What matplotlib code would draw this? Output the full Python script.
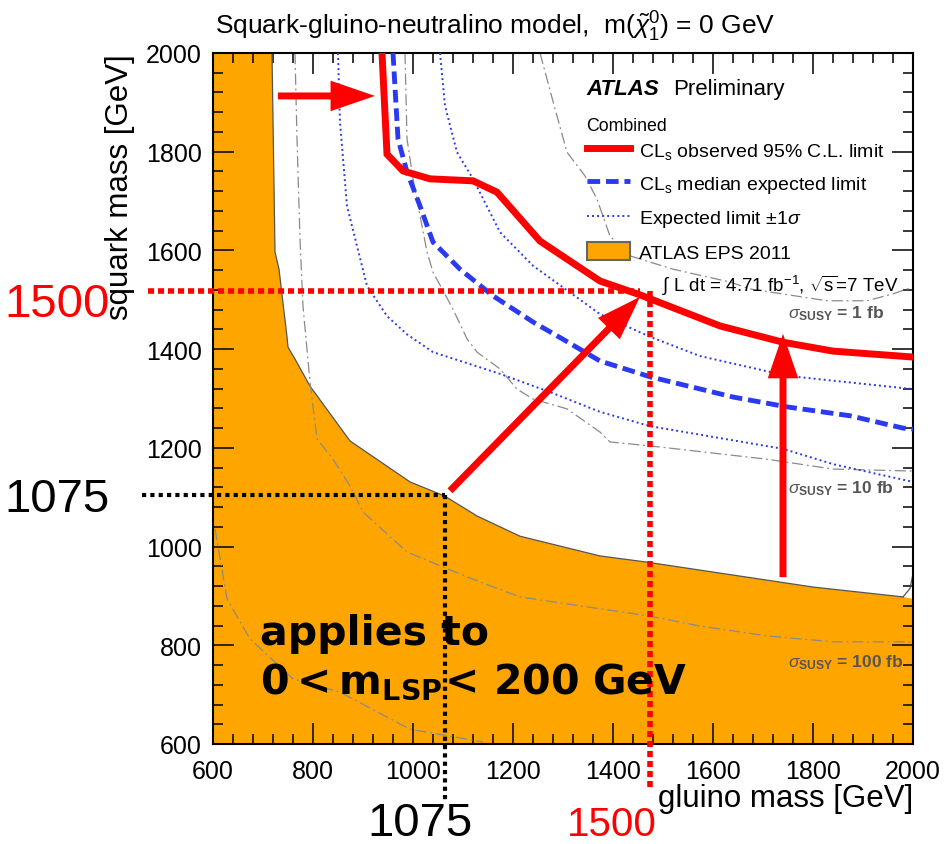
import numpy as np
import matplotlib
matplotlib.use('Agg')
import matplotlib.pyplot as plt
from matplotlib.lines import Line2D
from matplotlib.patches import Patch
from matplotlib.ticker import MultipleLocator

plt.rcParams['font.family'] = ['Liberation Sans', 'DejaVu Sans']
plt.rcParams['mathtext.fontset'] = 'custom'
plt.rcParams['mathtext.rm'] = 'Liberation Sans'
plt.rcParams['mathtext.it'] = 'Liberation Sans:italic'
plt.rcParams['mathtext.bf'] = 'Liberation Sans:bold'

# ATLAS EPS 2011 excluded region (boundary), gluino / squark mass in GeV
eps_x = [718, 724, 732, 748, 750, 764, 794, 874, 994, 1064, 1128, 1214, 1374, 1464, 1800, 1980, 2000]
eps_y = [2000, 1597, 1562, 1425, 1404, 1380, 1325, 1214, 1131, 1102, 1062, 1021, 981, 969, 918, 898, 894]
eps_tail_x = [1980, 1994, 2000]
eps_tail_y = [898, 915, 945]

# observed CLs limit
obs_x = [938, 948, 980, 1034, 1120, 1168, 1254, 1328, 1374, 1454, 1614, 1740, 1840, 2000]
obs_y = [2000, 1795, 1761, 1745, 1741, 1718, 1619, 1569, 1538, 1510, 1447, 1414, 1396, 1384]

# median expected
exp_x = [960, 970, 988, 1014, 1040, 1094, 1160, 1240, 1300, 1374, 1474, 1640, 1748, 1874, 1980, 2000]
exp_y = [2000, 1826, 1759, 1690, 1617, 1562, 1508, 1455, 1420, 1376, 1344, 1303, 1283, 1265, 1240, 1238]

# expected +-1 sigma
exp_up_x = [1054, 1064, 1088, 1120, 1174, 1240, 1374, 1474, 1574, 1748, 2000]
exp_up_y = [2000, 1893, 1799, 1745, 1637, 1569, 1471, 1425, 1386, 1346, 1319]
exp_dn_x = [850, 854, 868, 908, 948, 988, 1040, 1174, 1274, 1374, 1474, 1740, 1840, 2000]
exp_dn_y = [2000, 1860, 1690, 1528, 1467, 1430, 1394, 1350, 1313, 1273, 1244, 1198, 1167, 1131]

# sigma_SUSY contours
sig1_x = [1254, 1284, 1308, 1344, 1368, 1394, 1434, 1520, 1634, 1674, 1828, 1908, 1960, 2000]
sig1_y = [2000, 1887, 1799, 1751, 1704, 1629, 1589, 1562, 1536, 1522, 1498, 1498, 1512, 1526]
sig10_x = [984, 988, 1000, 1028, 1040, 1080, 1108, 1128, 1174, 1208, 1240, 1308, 1374, 1394, 1474, 1708, 1840, 2000]
sig10_y = [2000, 1826, 1745, 1597, 1556, 1481, 1421, 1394, 1360, 1319, 1299, 1279, 1232, 1212, 1204, 1177, 1157, 1153]
sig100_x = [764, 768, 774, 780, 794, 808, 840, 874, 900, 988, 1054, 1120, 1214, 1374, 1474, 1574, 1708, 1840, 2000]
sig100_y = [2000, 1826, 1623, 1487, 1333, 1218, 1177, 1123, 1070, 989, 961, 934, 898, 874, 859, 839, 819, 807, 807]
sig1000_x = [604, 628, 674, 760, 854, 994, 1140]
sig1000_y = [1036, 894, 813, 732, 705, 630, 604]

# hand-drawn markup
mark_obs = (1474, 1518)
mark_eps = (1064, 1104)
arrows = [((730, 1913), (924, 1913)),
          ((1074, 1113), (1454, 1506)),
          ((1740, 938), (1740, 1431))]

orange = '#ffa500'
red = '#ff0000'
blue = '#2b3af0'
gray = '#8a8a8a'

fig = plt.figure(figsize=(9.47, 8.45), dpi=100)
ax = fig.add_axes([213/947, 100/845, 700/947, 691/845])
ax.set_xlim(600, 2000)
ax.set_ylim(600, 2000)

xmin, xmax = ax.get_xlim()
ymin, ymax = ax.get_ylim()
ax.fill(list(eps_x) + [xmax, xmin, xmin], list(eps_y) + [ymin, ymin, ymax],
        color=orange, lw=0, zorder=1)
ax.plot(eps_x[:-1], eps_y[:-1], color='#555555', lw=0.9, zorder=2)
ax.plot(eps_tail_x, eps_tail_y, color='#555555', lw=0.9, zorder=2)

dashdot = (0, (9, 3, 1.5, 3))
for sx, sy in [(sig1_x, sig1_y), (sig10_x, sig10_y), (sig100_x, sig100_y), (sig1000_x, sig1000_y)]:
    ax.plot(sx, sy, color=gray, lw=0.9, ls=dashdot, zorder=2)

ax.plot(exp_up_x, exp_up_y, color=blue, lw=1.4, ls=(0, (1, 1.6)), zorder=3)
ax.plot(exp_dn_x, exp_dn_y, color=blue, lw=1.4, ls=(0, (1, 1.6)), zorder=3)
ax.plot(exp_x, exp_y, color=blue, lw=3.5, ls=(0, (2.6, 1.2)), zorder=3)
ax.plot(obs_x, obs_y, color=red, lw=5, zorder=4, solid_joinstyle='miter')

# axes style
ax.xaxis.set_major_locator(MultipleLocator(200))
ax.xaxis.set_minor_locator(MultipleLocator(40))
ax.yaxis.set_major_locator(MultipleLocator(200))
ax.yaxis.set_minor_locator(MultipleLocator(40))
ax.tick_params(which='both', direction='in', top=True, right=True, width=1.1)
ax.tick_params(which='major', length=15, labelsize=18)
ax.tick_params(which='minor', length=7)
ax.tick_params(axis='x', which='major', pad=11)
ax.tick_params(axis='y', which='major', pad=8)
for s in ax.spines.values():
    s.set_linewidth(1.5)
ax.set_xlabel('gluino mass [GeV]', loc='right', fontsize=22.5, labelpad=0)
ax.set_ylabel('squark mass [GeV]', loc='top', fontsize=22.5, labelpad=8)

ax.text(0.003, 1.0275, r'Squark-gluino-neutralino model,  m($\tilde{\chi}_1^0$) = 0 GeV',
        transform=ax.transAxes, ha='left', va='baseline', fontsize=19)

# legend block
ax.text(0.533, 0.9407, 'ATLAS', transform=ax.transAxes, fontsize=16,
        fontweight='bold', fontstyle='italic', va='baseline')
ax.text(0.657, 0.9407, 'Preliminary', transform=ax.transAxes, fontsize=16, va='baseline')
ax.text(0.533, 0.8886, 'Combined', transform=ax.transAxes, fontsize=12.8, va='baseline')
handles = [Line2D([], [], color=red, lw=5),
           Line2D([], [], color=blue, lw=3.5, ls=(0, (2.6, 1.2))),
           Line2D([], [], color=blue, lw=1.4, ls=(0, (1, 1.6))),
           Patch(facecolor=orange, edgecolor='#666666', lw=1.5)]
labels = [r'CL$_{\rm s}$ observed 95% C.L. limit',
          r'CL$_{\rm s}$ median expected limit',
          r'Expected limit $\pm$1$\sigma$',
          'ATLAS EPS 2011']
ax.legend(handles, labels, loc='upper left', bbox_to_anchor=(0.534, 0.8734),
          frameon=False, fontsize=14, borderpad=0, borderaxespad=0,
          handlelength=2.2, handleheight=1.08, handletextpad=0.5, labelspacing=0.63)
ax.text(0.641, 0.6556, r'$\int$ L dt = 4.71 fb$^{-1}$, $\sqrt{\rm s}$=7 TeV',
        transform=ax.transAxes, fontsize=13.5, va='baseline', zorder=6)

for yb, lab in [(0.618, '1'), (0.3647, '10'), (0.1129, '100')]:
    ax.text(0.821, yb, r'$\sigma_{\mathbf{SUSY}}$ = %s fb' % lab, transform=ax.transAxes,
            fontsize=12.5, fontweight='bold', color='#555555', va='baseline', zorder=6)

# markup lines
ax.plot([470, mark_obs[0] - 20], [mark_obs[1], mark_obs[1]], color=red, lw=4,
        ls=(0, (1.1, 0.7)), clip_on=False, zorder=7)
ax.plot([mark_obs[0], mark_obs[0]], [mark_obs[1], 505], color=red, lw=4,
        ls=(0, (1.1, 0.7)), clip_on=False, zorder=7)
ax.plot([458, mark_eps[0]], [mark_eps[1], mark_eps[1]], color='black', lw=3,
        ls=(0, (1, 1)), clip_on=False, zorder=7)
ax.plot([mark_eps[0], mark_eps[0]], [mark_eps[1], 480], color='black', lw=3,
        ls=(0, (1, 1)), clip_on=False, zorder=7)

for tail, tip in arrows:
    ax.annotate('', xy=tip, xytext=tail, annotation_clip=False, zorder=8,
                arrowprops=dict(arrowstyle='simple,head_length=3.2,head_width=2.2,tail_width=0.5',
                                mutation_scale=10, color=red, lw=0, shrinkA=0, shrinkB=0))

fig.text(57/947, 1-317/845, '1500', color=red, fontsize=34, ha='center', va='baseline')
fig.text(57/947, 1-512/845, '1075', color='black', fontsize=34, ha='center', va='baseline')
fig.text(420/947, 1-836/845, '1075', color='black', fontsize=34, ha='center', va='baseline')
fig.text(612/947, 1/845, '1500', color=red, fontsize=29, ha='center', va='bottom')

fig.text(260/947, 1-645/845, 'applies to', fontsize=29.5, fontweight='bold',
         family='DejaVu Sans', va='baseline', zorder=9)
fig.text(260/947, 1-693/845, r'$\mathbf{0 < m_{LSP}\!<\,200\ GeV}$', fontsize=29.5,
         math_fontfamily='dejavusans', va='baseline', zorder=9)

fig.savefig('out.png', dpi=100)
